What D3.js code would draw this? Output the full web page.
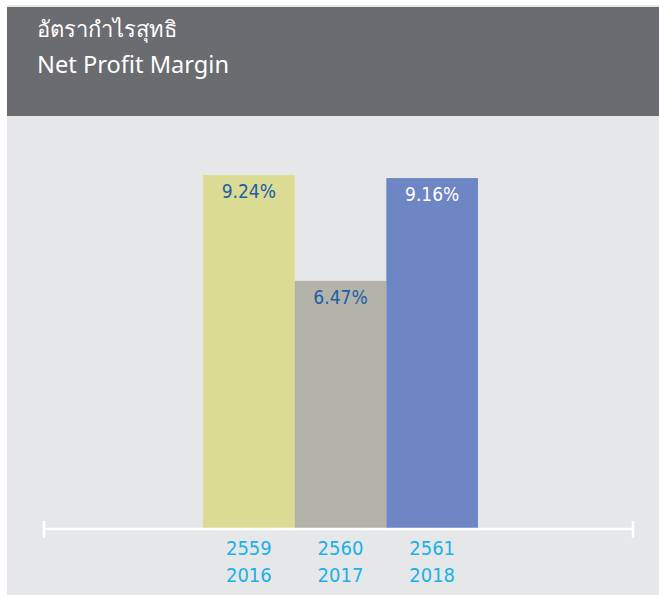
<!DOCTYPE html>
<html>
<head>
<meta charset="utf-8">
<script src="https://cdn.jsdelivr.net/npm/d3@7"></script>
<style>
  html, body { margin: 0; padding: 0; background: #ffffff; }
  svg { display: block; }
</style>
</head>
<body>
<svg id="chart" width="659" height="597"></svg>
<script>
// Net profit margin by fiscal year (Thai Buddhist year / Gregorian year)
const yearsBE = ["2559", "2560", "2561"];
const yearsCE = ["2016", "2017", "2018"];
const margins = [9.24, 6.47, 9.16];
const barColors = ["#dbdb94", "#b3b3aa", "#6e86c4"];
const labelColors = ["#1c5ea8", "#1c5ea8", "#ffffff"];
const titleTh = "อัตรากำไรสุทธิ";
const titleEn = "Net Profit Margin";

const svg = d3.select("#chart");

// panel background and header band
svg.append("rect").attr("x", 7).attr("y", 5).attr("width", 652).attr("height", 590).attr("fill", "#e6e7e9");
svg.append("rect").attr("x", 7).attr("y", 7).attr("width", 652).attr("height", 109).attr("fill", "#6b6c70");

const titleFont = "'Noto Sans', 'Open Sans', sans-serif";
svg.append("text").attr("x", 37).attr("y", 37)
  .attr("fill", "#ffffff").attr("font-family", titleFont).attr("font-size", 22)
  .text(titleTh);
svg.append("text").attr("x", 37).attr("y", 73)
  .attr("fill", "#ffffff").attr("font-family", titleFont).attr("font-size", 23)
  .attr("textLength", 192).attr("lengthAdjust", "spacingAndGlyphs")
  .text(titleEn);

// scales
const baseline = 528;
const x = d3.scaleBand().domain(yearsBE).range([203, 478]).padding(0);
const y = d3.scaleLinear().domain([0, 10]).range([baseline, baseline - 382]);

const data = yearsBE.map((d, i) => ({ be: d, ce: yearsCE[i], v: margins[i], c: barColors[i], lc: labelColors[i] }));

svg.append("g").selectAll("rect").data(data).join("rect")
  .attr("x", d => x(d.be))
  .attr("y", d => y(d.v))
  .attr("width", x.bandwidth())
  .attr("height", d => baseline - y(d.v))
  .attr("fill", d => d.c);

const numFont = "'DejaVu Sans Condensed', 'DejaVu Sans', sans-serif";
svg.append("g").selectAll("text").data(data).join("text")
  .attr("x", d => x(d.be) + x.bandwidth() / 2)
  .attr("y", d => y(d.v) + 23)
  .attr("text-anchor", "middle")
  .attr("font-family", numFont).attr("font-size", 19)
  .attr("fill", d => d.lc)
  .text(d => d.v.toFixed(2) + "%");

// baseline axis with end caps
const axisG = svg.append("g");
axisG.append("line").attr("x1", 44).attr("x2", 633).attr("y1", 529).attr("y2", 529)
  .attr("stroke", "#ffffff").attr("stroke-width", 2.5);
[44, 633].forEach(px => {
  axisG.append("line").attr("x1", px).attr("x2", px).attr("y1", 521).attr("y2", 538)
    .attr("stroke", "#ffffff").attr("stroke-width", 2.5);
});

// two-line category labels
const cat = svg.append("g").selectAll("text").data(data).join("text")
  .attr("text-anchor", "middle")
  .attr("font-family", numFont).attr("font-size", 20)
  .attr("fill", "#1bb0e8");
cat.append("tspan").attr("x", d => x(d.be) + x.bandwidth() / 2).attr("y", 555).text(d => d.be);
cat.append("tspan").attr("x", d => x(d.be) + x.bandwidth() / 2).attr("y", 582).text(d => d.ce);
</script>
</body>
</html>
